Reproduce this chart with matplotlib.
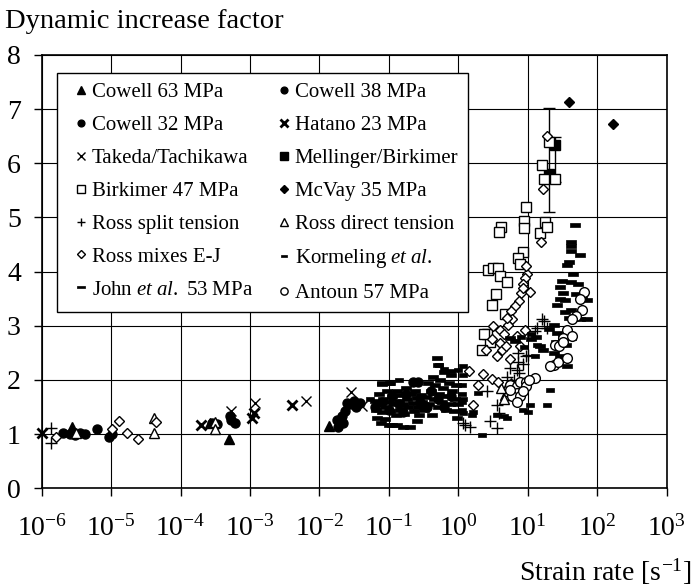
import matplotlib
matplotlib.use("Agg")
import matplotlib.pyplot as plt
import numpy as np

plt.rcParams['font.family'] = ['Liberation Serif', 'DejaVu Serif']
plt.rcParams['mathtext.fontset'] = 'custom'
plt.rcParams['mathtext.rm'] = 'Liberation Serif'
plt.rcParams['mathtext.it'] = 'Liberation Serif:italic'

# ---- data: log10(strain rate [1/s]) and dynamic increase factor ----
cowell63_lograte = [-5.57, -3.58, -3.31, -1.87]
cowell63_dif = [1.14, 1.21, 0.91, 1.15]

cowell38_lograte = [-5.69, -5.59, -5.52, -5.45, -5.38, -5.21, -5.03, -4.99,
                    -3.55, -3.48, -3.29, -3.27, -3.22]
cowell38_dif = [1.02, 1.00, 0.98, 1.02, 1.00, 1.10, 0.94, 1.00,
                1.21, 1.18, 1.33, 1.26, 1.20]

cowell32_lograte = [-1.75, -1.68, -1.73, -1.66, -1.63, -1.61, -1.56, -1.51, -1.47, -1.42,
                    -1.20, -1.10, -1.00, -0.95, -0.85, -0.80, -0.75, -0.65, -0.58,
                    -0.55, -0.45, -0.40, -0.30, -0.20, -0.10]
cowell32_dif = [1.26, 1.33, 1.14, 1.20, 1.42, 1.57, 1.55, 1.61, 1.50, 1.58,
                1.50, 1.60, 1.45, 1.70, 1.55, 1.40, 1.75, 1.97, 1.97,
                1.60, 1.50, 1.80, 1.65, 1.50, 1.70]

hatano_lograte = [-6.00, -3.71, -2.95, -2.97, -2.40]
hatano_dif = [1.02, 1.17, 1.39, 1.30, 1.54]

takeda_lograte = [-3.27, -2.93, -2.19, -1.54, -1.39]
takeda_dif = [1.42, 1.57, 1.62, 1.77, 1.52]

mellinger_lograte = [1.31, 1.385]
mellinger_dif = [5.81, 6.33]
mellinger_err_low = [0.70, 0.68]
mellinger_err_high = [1.21, 0.15]

birkimer_lograte = [0.97, 0.945, 0.945, 0.62, 0.59, 1.25, 1.17, 1.27, 0.935, 0.865,
                    0.89, 0.43, 0.50, 0.57, 0.60, 0.696, 0.54, 0.49, 0.67, 0.41,
                    0.46, 0.335, 1.21, 1.23, 1.39, 1.31, 0.37]
birkimer_dif = [5.20, 4.94, 4.81, 4.83, 4.73, 4.92, 4.72, 4.83, 4.36, 4.26,
                4.15, 4.03, 4.07, 4.07, 3.92, 3.81, 3.58, 3.39, 3.21, 2.84,
                2.71, 2.56, 5.96, 5.71, 5.71, 6.39, 2.84]

mcvay_lograte = [1.597, 2.22]
mcvay_dif = [7.13, 6.73]

ross_split_lograte = [-5.86, -5.87, 1.20, 1.27, 1.13, 0.86, 1.00, 0.86, 0.74, 0.84,
                      0.41, 0.56, 0.58, 0.095, 0.17, 0.455, 0.56, 1.23, 1.10, 0.98,
                      0.88, 0.70, 0.80, 0.93, 0.07]
ross_split_dif = [1.11, 0.84, 3.12, 2.96, 2.96, 2.50, 2.47, 2.34, 2.22, 2.19,
                  1.79, 1.54, 1.39, 1.17, 1.13, 1.25, 1.11, 3.08, 2.90, 2.44,
                  2.13, 2.05, 2.00, 2.30, 1.20]

ross_direct_lograte = [-5.50, -4.39, -4.39, -3.505, -3.505, 0.67, 0.70, 0.72, 0.62, 0.76, 0.65]
ross_direct_dif = [1.03, 1.30, 1.02, 1.23, 1.09, 1.73, 1.88, 1.80, 1.85, 1.95, 1.64]

ross_mix_lograte = [-5.79, -4.99, -4.88, -4.776, -4.61, -4.354,
                    1.27, 1.22, 1.19, 0.99, 0.96, 0.93, 1.03, 0.90, 0.87, 0.815,
                    0.753, 0.77, 0.72, 0.50, 0.60, 0.96, 0.84, 0.48, 0.60, 0.623,
                    0.887, 0.74, 0.157, 0.36, 0.48, 0.286, 0.575, 0.214, 0.98, 0.93,
                    0.70, 0.66, 0.55, 0.68, 0.40]
ross_mix_dif = [0.955, 1.10, 1.245, 1.03, 0.907, 1.22,
                6.50, 5.52, 4.54, 3.95, 3.88, 3.78, 3.62, 3.61, 3.46, 3.36,
                3.27, 3.12, 3.02, 2.99, 2.93, 2.93, 2.81, 2.75, 2.69, 2.55,
                2.62, 2.38, 2.16, 2.11, 2.01, 1.91, 1.96, 1.54, 4.10, 3.70,
                3.15, 2.84, 2.45, 2.62, 2.55]

kormeling_lograte = [-1.27, -1.11, -0.99, -0.85, -0.28, -0.20, -0.10, 0.00, 0.07, 0.07,
                     0.07, 0.07, 0.048, 0.048, 0.048, 0.048, 0.21, 0.19, 0.286, 0.335,
                     0.65, 0.70, 0.55, 0.93, 1.00, 1.03, 1.27, 1.32, 1.10, 1.13,
                     0.90, 1.05, 0.95]
kormeling_dif = [1.64, 1.94, 1.94, 2.00, 2.28, 2.20, 2.16, 2.18, 2.25, 2.10,
                 1.64, 1.39, 1.91, 1.75, 1.60, 1.45, 1.40, 1.35, 1.76, 0.99,
                 1.33, 1.30, 1.36, 1.45, 1.40, 1.54, 1.54, 1.82, 2.44, 2.65,
                 2.80, 2.85, 2.60]

john_lograte = [-1.20, -1.18, -1.17, -1.15, -1.13, -1.12, -1.10, -1.10, -1.08, -1.06,
                -1.05, -1.03, -1.00, -0.98, -0.98, -0.96, -0.95, -0.93, -0.90, -0.89,
                -0.86, -0.84, -0.82, -0.80, -0.78, -0.76, -0.74, -0.72, -0.70, -0.68,
                -0.66, -0.64, -0.62, -0.60, -0.58, -0.56, -0.54, -0.52, -0.50, -0.47,
                -0.44, -0.42, -0.40, -0.38, -0.36, -0.35, -0.33, -0.31, -0.30, -0.29,
                -0.28, -0.26, -0.24, -0.22, -0.20, -0.18, -0.16, -0.14, -0.12, -0.10,
                -0.09, -0.07, -0.05, -0.03, -0.02, 0.00, -1.00, -0.89, -0.80, -0.60,
                1.68, 1.62, 1.62, 1.62, 1.75, 1.59, 1.57, 1.65, 1.49, 1.62,
                1.72, 1.46, 1.51, 1.69, 1.46, 1.53, 1.78, 1.42, 1.62, 1.53,
                1.59, 1.75, 1.37, 1.42, 1.51, 1.62, 1.55, 1.37, 1.46, 1.56,
                1.40, 1.30, 1.85, 1.85, 0.75, 0.82, 1.05, 1.12, 1.18, 1.22]
john_dif = [1.62, 1.45, 1.30, 1.75, 1.55, 1.20, 1.92, 1.40, 1.65, 1.50,
            1.28, 1.80, 1.60, 1.94, 1.42, 1.70, 1.17, 1.55, 1.35, 1.80,
            1.62, 1.45, 1.72, 1.55, 1.38, 1.85, 1.65, 1.50, 1.14, 1.75,
            1.58, 1.42, 1.80, 1.66, 1.50, 1.35, 1.72, 1.60, 1.45, 1.68,
            1.95, 1.55, 1.80, 1.35, 2.05, 1.65, 1.90, 2.41, 1.50, 2.28,
            1.75, 2.00, 1.60, 1.85, 2.15, 1.45, 1.70, 1.95, 1.55, 2.10,
            1.80, 1.42, 1.65, 1.90, 1.30, 1.55, 1.17, 1.17, 1.14, 1.25,
            4.86, 4.55, 4.47, 4.38, 4.30, 4.17, 4.13, 3.95, 3.83, 3.80,
            3.78, 3.72, 3.61, 3.58, 3.49, 3.47, 3.52, 3.39, 3.30, 3.25,
            3.15, 3.12, 3.02, 2.87, 2.80, 2.78, 2.65, 2.50, 2.45, 2.25,
            2.70, 2.95, 3.48, 3.12, 2.78, 2.72, 2.75, 2.80, 2.62, 2.55]

antoun_lograte = [1.81, 1.75, 1.78, 1.70, 1.57, 1.51, 1.39, 1.45, 1.37, 1.44,
                  1.63, 1.56, 1.32, 1.50, 1.63, 0.74, 0.84, 0.89, 0.98, 1.10,
                  0.84, 0.77, 0.89, 0.84, 0.74, 0.98, 1.02, 0.93]
antoun_dif = [3.62, 3.49, 3.30, 3.18, 2.93, 2.78, 2.65, 2.62, 2.28, 2.34,
              2.81, 2.41, 2.25, 2.71, 3.12, 1.91, 1.88, 1.97, 1.97, 2.04,
              1.76, 1.70, 1.70, 1.60, 1.82, 1.88, 2.00, 1.80]

xtick_exponents = [-6, -5, -4, -3, -2, -1, 0, 1, 2, 3]
yticks = [0, 1, 2, 3, 4, 5, 6, 7, 8]

# ---- figure ----
W, H = 693, 587
fig = plt.figure(figsize=(W / 100, H / 100), dpi=100)
ax = fig.add_axes([41.7 / W, (H - 488.3) / H, 625 / W, 433.3 / H])
ax.set_xscale('log')
ax.set_xlim(1e-6, 1e3)
ax.set_ylim(0, 8)

dash_big = [(-1, -0.35), (1, -0.35), (1, 0.35), (-1, 0.35), (-1, -0.35)]
dash_small = [(-1, -0.4), (1, -0.4), (1, 0.4), (-1, 0.4), (-1, -0.4)]

def r(a):
    return 10 ** np.asarray(a, dtype=float)

common = dict(linestyle='none', clip_on=False, zorder=3)
h = {}
h['c63'], = ax.plot(r(cowell63_lograte), cowell63_dif, marker='^', ms=7, mfc='black', mec='black', label='Cowell 63 MPa', **common)
h['c38'], = ax.plot(r(cowell38_lograte), cowell38_dif, marker='o', ms=6.5, mfc='black', mec='black', label='Cowell 38 MPa', **common)
h['c32'], = ax.plot(r(cowell32_lograte), cowell32_dif, marker='o', ms=6.5, mfc='black', mec='black', label='Cowell 32 MPa', **common)
h['hat'], = ax.plot(r(hatano_lograte), hatano_dif, marker='x', ms=7, mew=2.0, color='black', label='Hatano 23 MPa', **common)
h['tak'], = ax.plot(r(takeda_lograte), takeda_dif, marker='x', ms=7, mew=1.0, color='black', label='Takeda/Tachikawa', **common)
ax.errorbar(r(mellinger_lograte), mellinger_dif,
            yerr=[mellinger_err_low, mellinger_err_high], fmt='none',
            ecolor='black', elinewidth=1.0, capsize=4, capthick=1.0, zorder=2)
h['mel'], = ax.plot(r(mellinger_lograte), mellinger_dif, marker='s', ms=7, mfc='black', mec='black', label='Mellinger/Birkimer', **common)
h['bir'], = ax.plot(r(birkimer_lograte), birkimer_dif, marker='s', ms=7, mfc='white', mec='black', mew=1.0, label='Birkimer 47 MPa', **common)
h['mcv'], = ax.plot(r(mcvay_lograte), mcvay_dif, marker='D', ms=5.5, mfc='black', mec='black', label='McVay 35 MPa', **common)
h['rsp'], = ax.plot(r(ross_split_lograte), ross_split_dif, marker='+', ms=8, mew=1.0, color='black', label='Ross split tension', **common)
h['rdt'], = ax.plot(r(ross_direct_lograte), ross_direct_dif, marker='^', ms=7, mfc='white', mec='black', mew=1.0, label='Ross direct tension', **common)
h['rmx'], = ax.plot(r(ross_mix_lograte), ross_mix_dif, marker='D', ms=5.5, mfc='white', mec='black', mew=1.0, label='Ross mixes E-J', **common)
h['kor'], = ax.plot(r(kormeling_lograte), kormeling_dif, marker=dash_small, ms=5.5, mfc='black', mec='black', mew=0.5,
                    label=r'$\mathrm{Kormeling}\ \mathit{et\ al.}$', **common)
h['joh'], = ax.plot(r(john_lograte), john_dif, marker=dash_big, ms=7.5, mfc='black', mec='black', mew=0.5,
                    label=r'$\mathrm{John}\ \mathit{et\ al.}\ \mathrm{53\ MPa}$', **common)
h['ant'], = ax.plot(r(antoun_lograte), antoun_dif, marker='o', ms=7, mfc='white', mec='black', mew=1.0, label='Antoun 57 MPa', **common)

# axes styling
ax.set_xticks([10.0 ** e for e in xtick_exponents])
ax.set_xticklabels([r'$\mathregular{10^{%d}}$' % e for e in xtick_exponents])
ax.minorticks_off()
ax.set_yticks(yticks)
ax.set_yticklabels([str(v) for v in yticks])
ax.tick_params(axis='both', direction='out', length=6, width=1.0, colors='black', labelsize=20)
ax.tick_params(axis='x', pad=13)
ax.tick_params(axis='y', pad=9)
ax.grid(True, which='major', color='black', linewidth=0.8)
ax.set_axisbelow(True)
for s in ax.spines.values():
    s.set_linewidth(1.2)
    s.set_color('black')

order = ['c63', 'c32', 'tak', 'bir', 'rsp', 'rmx', 'joh',
         'c38', 'hat', 'mel', 'mcv', 'rdt', 'kor', 'ant']
leg = ax.legend([h[k] for k in order], [h[k].get_label() for k in order],
                ncol=2, loc='upper left', bbox_to_anchor=(0.0245, 0.958),
                borderaxespad=0, fontsize=15, frameon=True, fancybox=False,
                edgecolor='black', framealpha=1, facecolor='white',
                handlelength=1.4, handletextpad=-0.19, columnspacing=0.8,
                labelspacing=0.64, borderpad=0.45, markerscale=0.75)
leg.get_frame().set_linewidth(1.0)
leg.set_zorder(5)

fig.text(5 / W, 1 - 28 / H, 'Dynamic increase factor', fontsize=20.5, ha='left', va='baseline')
fig.text(691 / W, 1 - 581 / H, r'Strain rate [s$^{\mathregular{-1}}$]', fontsize=20, ha='right', va='baseline')

fig.savefig('out.png', dpi=100)
